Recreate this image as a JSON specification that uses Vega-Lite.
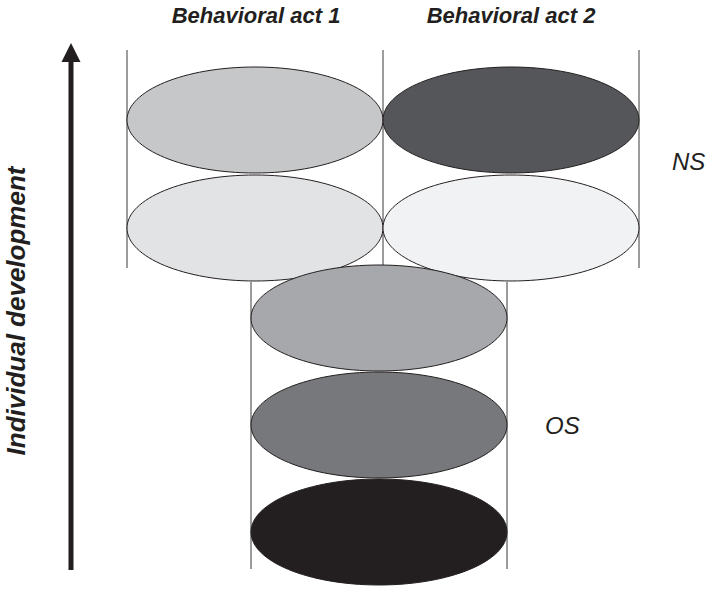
{
  "$schema": "https://vega.github.io/schema/vega-lite/v6.json",
  "width": 710,
  "height": 589,
  "autosize": {"type": "none"},
  "padding": 0,
  "background": "white",
  "config": {"view": {"stroke": null}},
  "datasets": {
    "lines": [
      {"x": 127, "y1": 50, "y2": 268},
      {"x": 383, "y1": 50, "y2": 268},
      {"x": 639, "y1": 50, "y2": 268},
      {"x": 251, "y1": 282, "y2": 569},
      {"x": 507, "y1": 282, "y2": 569}
    ],
    "shaft": [{"x": 71, "y1": 570, "y2": 58}],
    "head": [{"x": 71, "y": 52.5}],
    "ellipses": [
      {"x": 255, "y": 120, "fill": "#c6c7c9"},
      {"x": 511, "y": 120, "fill": "#555659"},
      {"x": 255, "y": 228, "fill": "#e2e3e5"},
      {"x": 511, "y": 228, "fill": "#f1f2f4"},
      {"x": 379, "y": 318, "fill": "#a7a8ab"},
      {"x": 379, "y": 425, "fill": "#77787b"},
      {"x": 379, "y": 532, "fill": "#231f20"}
    ],
    "titles": [
      {"x": 256, "y": 23, "label": "Behavioral act 1"},
      {"x": 511, "y": 23, "label": "Behavioral act 2"}
    ],
    "groups": [
      {"x": 672, "y": 170, "label": "NS"},
      {"x": 545, "y": 434, "label": "OS"}
    ],
    "axis": [{"x": 17, "y": 311, "label": "Individual development"}]
  },
  "layer": [
    {
      "data": {"name": "lines"},
      "mark": {"type": "rule", "stroke": "#3a3a3a", "strokeWidth": 1},
      "encoding": {
        "x": {"field": "x", "type": "quantitative", "scale": {"domain": [0, 710], "nice": false, "zero": false}, "axis": null},
        "y": {"field": "y1", "type": "quantitative", "scale": {"domain": [0, 589], "nice": false, "zero": false, "reverse": true}, "axis": null},
        "y2": {"field": "y2"}
      }
    },
    {
      "data": {"name": "shaft"},
      "mark": {"type": "rule", "stroke": "#231f20", "strokeWidth": 5},
      "encoding": {
        "x": {"field": "x", "type": "quantitative", "scale": {"domain": [0, 710], "nice": false, "zero": false}, "axis": null},
        "y": {"field": "y1", "type": "quantitative", "scale": {"domain": [0, 589], "nice": false, "zero": false, "reverse": true}, "axis": null},
        "y2": {"field": "y2"}
      }
    },
    {
      "data": {"name": "head"},
      "mark": {"type": "point", "shape": "M0,-1 L-1,1 L1,1 Z", "size": 361, "filled": true, "opacity": 1, "fill": "#231f20", "strokeWidth": 0},
      "encoding": {
        "x": {"field": "x", "type": "quantitative", "scale": {"domain": [0, 710], "nice": false, "zero": false}, "axis": null},
        "y": {"field": "y", "type": "quantitative", "scale": {"domain": [0, 589], "nice": false, "zero": false, "reverse": true}, "axis": null}
      }
    },
    {
      "data": {"name": "ellipses"},
      "mark": {"type": "point", "shape": "M-1,0 A1,0.414 0 1,1 1,0 A1,0.414 0 1,1 -1,0 Z", "size": 65536, "filled": true, "opacity": 1, "stroke": "#231f20", "strokeWidth": 1},
      "encoding": {
        "x": {"field": "x", "type": "quantitative", "scale": {"domain": [0, 710], "nice": false, "zero": false}, "axis": null},
        "y": {"field": "y", "type": "quantitative", "scale": {"domain": [0, 589], "nice": false, "zero": false, "reverse": true}, "axis": null},
        "fill": {"field": "fill", "type": "nominal", "scale": null}
      }
    },
    {
      "data": {"name": "titles"},
      "mark": {"type": "text", "font": "Liberation Sans", "fontSize": 22, "fontWeight": "bold", "fontStyle": "italic", "align": "center", "baseline": "alphabetic", "fill": "#231f20"},
      "encoding": {
        "x": {"field": "x", "type": "quantitative", "scale": {"domain": [0, 710], "nice": false, "zero": false}, "axis": null},
        "y": {"field": "y", "type": "quantitative", "scale": {"domain": [0, 589], "nice": false, "zero": false, "reverse": true}, "axis": null},
        "text": {"field": "label"}
      }
    },
    {
      "data": {"name": "groups"},
      "mark": {"type": "text", "font": "Liberation Sans", "fontSize": 24, "fontStyle": "italic", "align": "left", "baseline": "alphabetic", "fill": "#231f20"},
      "encoding": {
        "x": {"field": "x", "type": "quantitative", "scale": {"domain": [0, 710], "nice": false, "zero": false}, "axis": null},
        "y": {"field": "y", "type": "quantitative", "scale": {"domain": [0, 589], "nice": false, "zero": false, "reverse": true}, "axis": null},
        "text": {"field": "label"}
      }
    },
    {
      "data": {"name": "axis"},
      "mark": {"type": "text", "font": "Liberation Sans", "fontSize": 26, "fontWeight": "bold", "fontStyle": "italic", "align": "center", "baseline": "middle", "angle": 270, "fill": "#231f20"},
      "encoding": {
        "x": {"field": "x", "type": "quantitative", "scale": {"domain": [0, 710], "nice": false, "zero": false}, "axis": null},
        "y": {"field": "y", "type": "quantitative", "scale": {"domain": [0, 589], "nice": false, "zero": false, "reverse": true}, "axis": null},
        "text": {"field": "label"}
      }
    }
  ]
}
